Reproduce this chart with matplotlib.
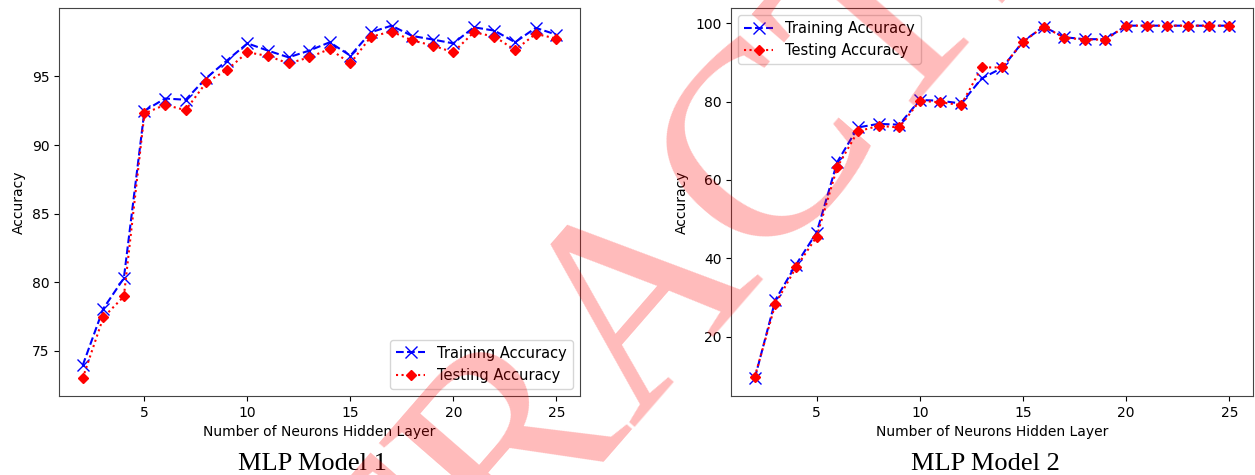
import numpy as np
import matplotlib
matplotlib.use('Agg')
import matplotlib.pyplot as plt

neurons = list(range(2, 26))

# MLP model 1
train_m1 = [73.93, 78.07, 80.29, 92.49, 93.39, 93.30, 94.88, 96.15, 97.41, 96.88, 96.39, 96.88,
            97.49, 96.51, 98.22, 98.70, 97.95, 97.69, 97.41, 98.58, 98.34, 97.49, 98.54, 98.05]
test_m1 = [72.99, 77.43, 78.96, 92.30, 92.93, 92.54, 94.56, 95.47, 96.76, 96.49, 95.95, 96.39,
           97.00, 95.95, 97.90, 98.27, 97.63, 97.25, 96.76, 98.22, 97.90, 96.93, 98.10, 97.76]

# MLP model 2
train_m2 = [9.4, 29.4, 38.4, 46.6, 64.6, 73.4, 74.3, 74.1, 80.4, 80.2, 79.5, 85.9,
            88.6, 95.3, 99.1, 96.4, 95.9, 95.9, 99.35, 99.35, 99.35, 99.35, 99.35, 99.35]
test_m2 = [9.8, 28.4, 37.7, 45.5, 63.3, 72.4, 73.8, 73.4, 80.2, 79.8, 79.1, 88.7,
           88.7, 95.2, 99.1, 96.3, 95.8, 95.8, 99.35, 99.35, 99.35, 99.35, 99.35, 99.35]

captions = ['MLP Model 1', 'MLP Model 2']
legend_pos = ['lower right', 'upper left']

fig = plt.figure(figsize=(12.55, 4.75), dpi=100)
ax1 = fig.add_axes([0.047, 0.1663, 0.4151, 0.8168])
ax2 = fig.add_axes([0.5825, 0.1663, 0.4159, 0.8168])

for ax, tr, te, loc in zip([ax1, ax2], [train_m1, train_m2], [test_m1, test_m2], legend_pos):
    ax.plot(neurons, tr, color='blue', linestyle='--', marker='x', markersize=8,
            label='Training Accuracy')
    ax.plot(neurons, te, color='red', linestyle=':', marker='D', markersize=5,
            label='Testing Accuracy')
    ax.set_xlabel('Number of Neurons Hidden Layer')
    ax.set_ylabel('Accuracy')
    ax.set_xticks([5, 10, 15, 20, 25])
    ax.legend(loc=loc, fontsize=10.5)
    for s in ax.spines.values():
        s.set_color('#444444')

fig.text(0.249, 0.01, captions[0], ha='center', va='baseline',
         fontsize=19, family='Liberation Serif')
fig.text(0.785, 0.01, captions[1], ha='center', va='baseline',
         fontsize=19, family='Liberation Serif')

# retraction watermark
fig.text(0.519, 0.375, 'RETRACTED', ha='center', va='center', rotation=49,
         fontsize=200, family='Liberation Serif', color='red', alpha=0.27)

fig.savefig('out.png', dpi=100)
